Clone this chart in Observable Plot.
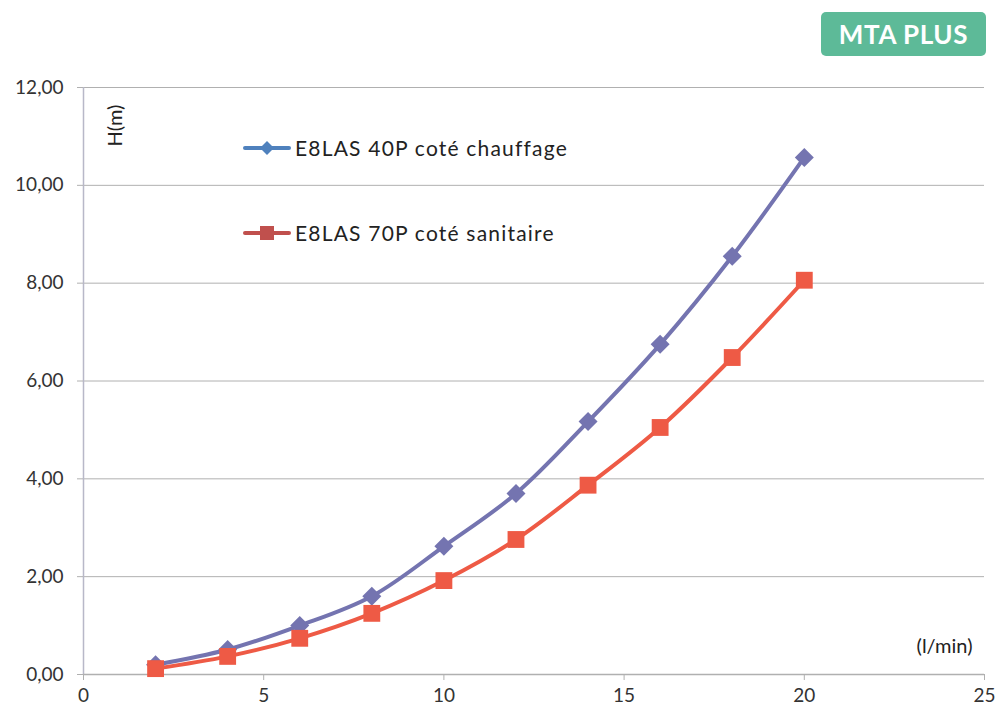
<!DOCTYPE html>
<html>
<head>
<meta charset="utf-8">
<script src="https://cdn.jsdelivr.net/npm/d3@7"></script>
<script src="https://cdn.jsdelivr.net/npm/@observablehq/plot@0.6"></script>
<style>
  html, body { margin: 0; padding: 0; background: #fff; }
  #wrap { position: relative; width: 999px; height: 711px; font-family: Lato, "Open Sans", sans-serif; }
  #badge { position: absolute; left: 821px; top: 12px; width: 165px; height: 44px; background: #5dba98; border-radius: 5px;
    color: #fff; font-family: Lato, sans-serif; font-weight: 700; font-size: 26px; letter-spacing: 0.6px;
    display: flex; align-items: center; justify-content: center; }
  .leg { position: absolute; left: 243px; display: flex; align-items: center; font-family: Lato, sans-serif; font-size: 21px; letter-spacing: 1.2px; color: #222; }
  .leg svg { margin-right: 4px; }
</style>
</head>
<body>
<div id="wrap">
  <div id="chart"></div>
  <div id="badge">MTA PLUS</div>
  <div class="leg" style="top:135px"><svg width="48" height="16"><line x1="2" y1="8" x2="46" y2="8" stroke="#4f81bd" stroke-width="4" stroke-linecap="round"/><path d="M24 1 L31 8 L24 15 L17 8 Z" fill="#4f81bd"/></svg><span>E8LAS 40P coté chauffage</span></div>
  <div class="leg" style="top:220px"><svg width="48" height="16"><line x1="2" y1="8" x2="46" y2="8" stroke="#c0504d" stroke-width="4" stroke-linecap="round"/><rect x="17" y="1" width="14" height="14" fill="#c0504d"/></svg><span>E8LAS 70P coté sanitaire</span></div>
</div>
<script>
const flow = [2, 4, 6, 8, 10, 12, 14, 16, 18, 20];
const chauffage = [0.20, 0.51, 1.00, 1.60, 2.62, 3.70, 5.17, 6.75, 8.55, 10.57];
const sanitaire = [0.12, 0.37, 0.74, 1.25, 1.92, 2.76, 3.87, 5.05, 6.48, 8.06];
const yTicks = [0, 2, 4, 6, 8, 10, 12];
const xTicks = [0, 5, 10, 15, 20, 25];

const data1 = flow.map((x, i) => ({x, y: chauffage[i]}));
const data2 = flow.map((x, i) => ({x, y: sanitaire[i]}));
const fmt = d => d.toFixed(2).replace(".", ",");

// Square-proportioned diamond (like the spreadsheet marker)
const squareDiamond = {
  draw(context, size) {
    const h = Math.sqrt(size / Math.PI);
    context.moveTo(0, -h);
    context.lineTo(h, 0);
    context.lineTo(0, h);
    context.lineTo(-h, 0);
    context.closePath();
  }
};

const chart = Plot.plot({
  width: 999,
  height: 711,
  marginLeft: 83,
  marginRight: 15,
  marginTop: 87,
  marginBottom: 37,
  style: {fontFamily: "Lato, sans-serif", fontSize: "19px", color: "#333", background: "#fff"},
  x: {domain: [0, 25]},
  y: {domain: [0, 12]},
  marks: [
    Plot.ruleY(yTicks.slice(1), {stroke: "#b0b0b0", strokeWidth: 1, strokeOpacity: 1}),
    Plot.ruleX([0], {stroke: "#b8b8c8", strokeWidth: 1.5}),
    Plot.ruleY([0], {stroke: "#b0b0b0", strokeWidth: 1.5}),
    Plot.axisY({ticks: yTicks, tickFormat: fmt, tickSize: 6, tickPadding: 14, label: null, stroke: "#b0b0b0", fill: "#333"}),
    Plot.axisX({ticks: xTicks, tickSize: 6, tickPadding: 8, label: null, stroke: "#b0b0b0", fill: "#333"}),
    Plot.line(data1, {x: "x", y: "y", stroke: "#7474b0", strokeWidth: 4, curve: "catmull-rom"}),
    Plot.line(data2, {x: "x", y: "y", stroke: "#ee5a45", strokeWidth: 4, curve: "catmull-rom"}),
    Plot.dot(data1, {x: "x", y: "y", symbol: squareDiamond, r: 9.5, fill: "#7474b0"}),
    Plot.dot(data2, {x: "x", y: "y", symbol: "square", r: 9.5, fill: "#ee5a45"}),
    Plot.text(["H(m)"], {frameAnchor: "top-left", dx: 32, dy: 38, rotate: -90, textAnchor: "middle", lineAnchor: "middle", fontSize: 20, fill: "#222"}),
    Plot.text(["(l/min)"], {frameAnchor: "bottom-right", dx: -12, dy: -28, textAnchor: "end", lineAnchor: "middle", fontSize: 20, fill: "#222"})
  ]
});
document.getElementById("chart").appendChild(chart);
</script>
</body>
</html>
